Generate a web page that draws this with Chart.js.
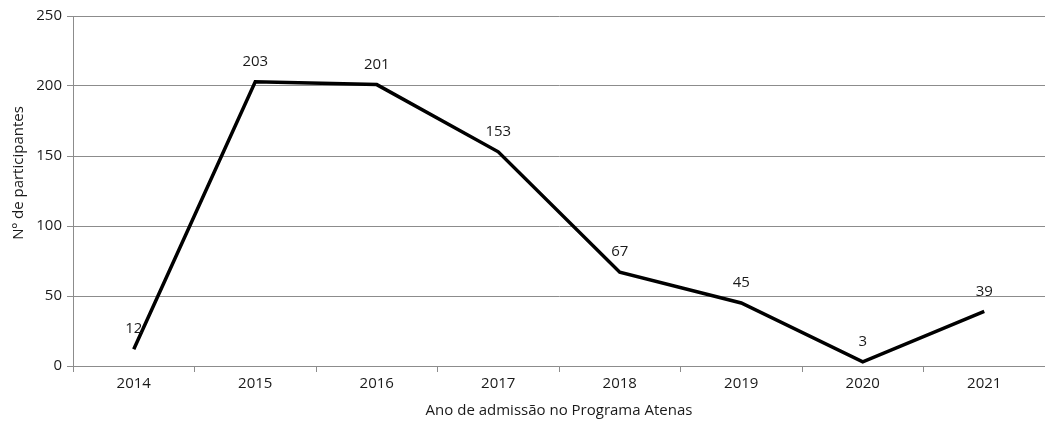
<!DOCTYPE html>
<html>
<head>
<meta charset="utf-8">
<script src="https://cdn.jsdelivr.net/npm/chart.js@4/dist/chart.umd.min.js"></script>
<style>
  html, body { margin: 0; padding: 0; background: #fff; }
  #wrap { width: 1045px; height: 423px; position: relative; }
</style>
</head>
<body>
<div id="wrap"><canvas id="chart"></canvas></div>
<script>
// Données
const years = ['2014', '2015', '2016', '2017', '2018', '2019', '2020', '2021'];
const participants = [12, 203, 201, 153, 67, 45, 3, 39];
const yTicks = [0, 50, 100, 150, 200, 250];
const yTitle = 'Nº de participantes';

const FONT = '"Open Sans", "DejaVu Sans", sans-serif';
const TEXT = '#1a1a1a';
const GRID = '#8c8c8c';

// Étiquettes de valeur au-dessus des points + titre de l'axe Y
const valueLabels = {
  id: 'valueLabels',
  afterDatasetsDraw(chart) {
    const { ctx, chartArea } = chart;
    const meta = chart.getDatasetMeta(0);
    ctx.save();
    ctx.font = '15px ' + FONT;
    ctx.fillStyle = TEXT;
    ctx.textAlign = 'center';
    ctx.textBaseline = 'middle';
    meta.data.forEach((pt, i) => {
      ctx.fillText(String(participants[i]), pt.x, pt.y - 20);
    });
    // titre Y un peu au-dessus du centre, comme sur l'original
    ctx.translate(19, (chartArea.top + chartArea.bottom) / 2 - 18);
    ctx.rotate(-Math.PI / 2);
    ctx.fillText(yTitle, 0, 0);
    ctx.restore();
  }
};

new Chart(document.getElementById('chart'), {
  type: 'line',
  data: {
    labels: years,
    datasets: [{
      data: participants,
      borderColor: '#000',
      borderWidth: 3.5,
      pointRadius: 0,
      tension: 0,
      fill: false
    }]
  },
  options: {
    responsive: true,
    maintainAspectRatio: false,
    animation: false,
    layout: { padding: { top: 16, right: 0, left: 0, bottom: 0 } },
    plugins: { legend: { display: false }, tooltip: { enabled: false } },
    scales: {
      x: {
        offset: true,
        grid: { offset: true, drawOnChartArea: false, color: GRID, tickLength: 6 },
        border: { color: GRID, width: 1 },
        ticks: { color: TEXT, font: { family: FONT, size: 15 }, padding: 3, maxRotation: 0 },
        title: {
          display: true,
          text: 'Ano de admissão no Programa Atenas',
          color: TEXT,
          font: { family: FONT, size: 15 },
          padding: { top: 0, bottom: 3 }
        },
        afterFit(scale) { scale.height = 57; }
      },
      y: {
        min: 0,
        max: 250,
        afterBuildTicks(scale) { scale.ticks = yTicks.map(v => ({ value: v })); },
        grid: { color: GRID, tickLength: 6 },
        border: { color: GRID, width: 1 },
        ticks: { color: TEXT, font: { family: FONT, size: 15 }, padding: 5 },
        afterFit(scale) { scale.width = 73; }
      }
    }
  },
  plugins: [valueLabels]
});
</script>
</body>
</html>
